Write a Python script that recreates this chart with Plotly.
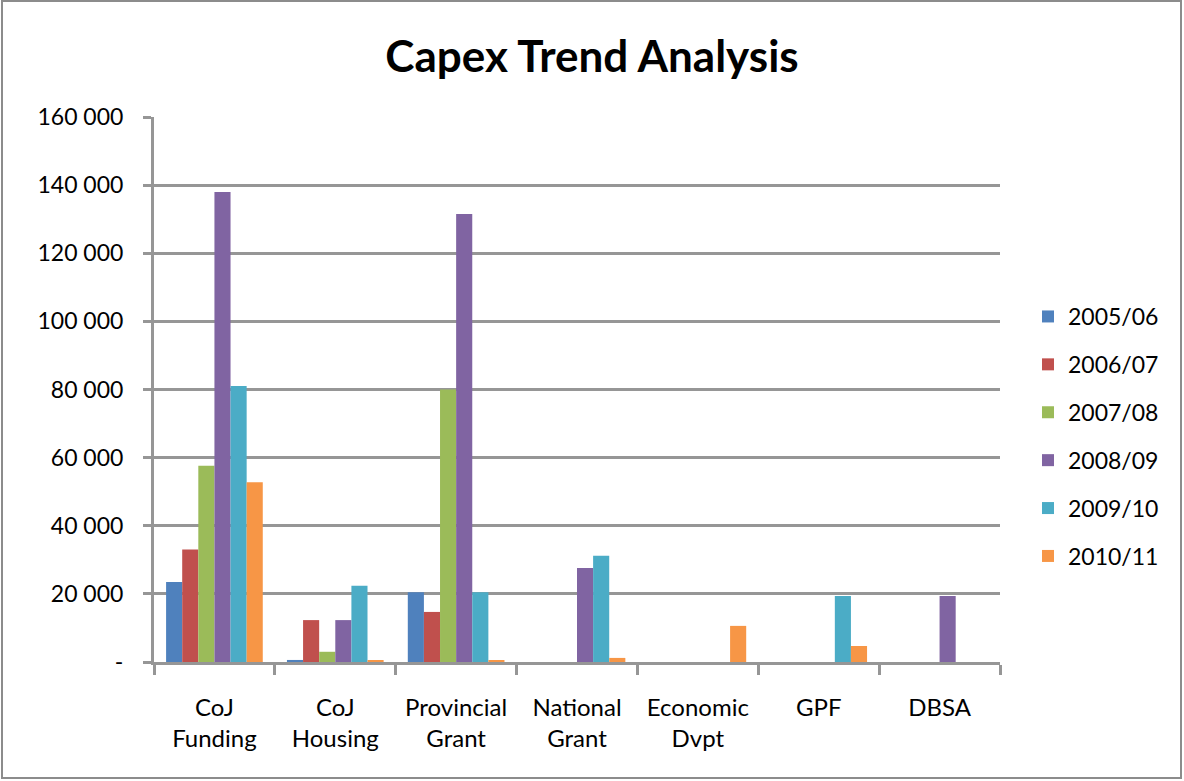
import plotly.graph_objects as go

categories = ["CoJ<br>Funding", "CoJ<br>Housing", "Provincial<br>Grant", "National<br>Grant",
              "Economic<br>Dvpt", "GPF", "DBSA"]
years = ["2005/06", "2006/07", "2007/08", "2008/09", "2009/10", "2010/11"]
colors = ["#4F81BD", "#C0504D", "#9BBB59", "#8064A2", "#4BACC6", "#F79646"]

v2005_06 = [23500, 600, 20500, 0, 0, 0, 0]
v2006_07 = [33000, 12300, 14700, 0, 0, 0, 0]
v2007_08 = [57600, 3000, 80000, 0, 0, 0, 0]
v2008_09 = [138000, 12300, 131500, 27600, 0, 0, 19400]
v2009_10 = [81000, 22400, 20500, 31200, 0, 19400, 0]
v2010_11 = [52800, 500, 500, 1200, 10600, 4700, 0]
series = [v2005_06, v2006_07, v2007_08, v2008_09, v2009_10, v2010_11]

tick_vals = [0, 20000, 40000, 60000, 80000, 100000, 120000, 140000, 160000]
tick_text = ["-", "20 000", "40 000", "60 000", "80 000", "100 000", "120 000", "140 000", "160 000"]

font_family = "Lato, Open Sans, sans-serif"
W, H = 1184, 781
L, R, T, B = 154, 184, 117, 119

fig = go.Figure()
for i, (name, vals) in enumerate(zip(years, series)):
    fig.add_trace(go.Bar(
        x=categories, y=vals, name=name, marker_color=colors[i],
        marker_line_width=0, legendgroup=name,
    ))

pw, ph = W - L - R, H - T - B
def px_x(p):
    return (p - L) / pw
def px_y(p):
    return (H - B - p) / ph

fig.update_layout(
    width=W, height=H,
    margin=dict(l=L, r=R, t=T, b=B, pad=0),
    paper_bgcolor="white", plot_bgcolor="white",
    barmode="group", bargap=0.2, bargroupgap=0,
    title=dict(text="<b>Capex Trend Analysis</b>", x=0.5, xanchor="center",
               y=1 - 57 / H, yanchor="middle",
               font=dict(family=font_family, size=44, color="black")),
    font=dict(family=font_family, size=23, color="black"),
    legend=dict(x=px_x(1028), xanchor="left", y=px_y(295), yanchor="top",
                font=dict(size=23, family=font_family, color="black"),
                tracegroupgap=15, itemsizing="constant", bgcolor="rgba(0,0,0,0)"),
    showlegend=True,
    xaxis=dict(showline=True, linecolor="#969696", linewidth=3,
               ticks="outside", tickson="boundaries", ticklen=10, tickwidth=3,
               tickcolor="#969696", showgrid=False,
               tickfont=dict(size=24, family=font_family, color="black"),
               ticklabelstandoff=22),
    yaxis=dict(range=[0, 160000], tickvals=tick_vals, ticktext=tick_text,
               showline=True, linecolor="#969696", linewidth=3,
               ticks="outside", ticklen=8, tickwidth=3, tickcolor="#969696",
               showgrid=True, gridcolor="#969696", gridwidth=3, zeroline=False,
               tickfont=dict(size=23, family=font_family, color="black"),
               ticklabelstandoff=15),
)

# outer chart frame
fig.add_shape(type="rect", xref="paper", yref="paper",
              x0=px_x(2), x1=px_x(1181), y0=px_y(778), y1=px_y(1),
              line=dict(color="#8C8C8C", width=2), fillcolor="rgba(0,0,0,0)", layer="below")

fig.write_html("out.html")
